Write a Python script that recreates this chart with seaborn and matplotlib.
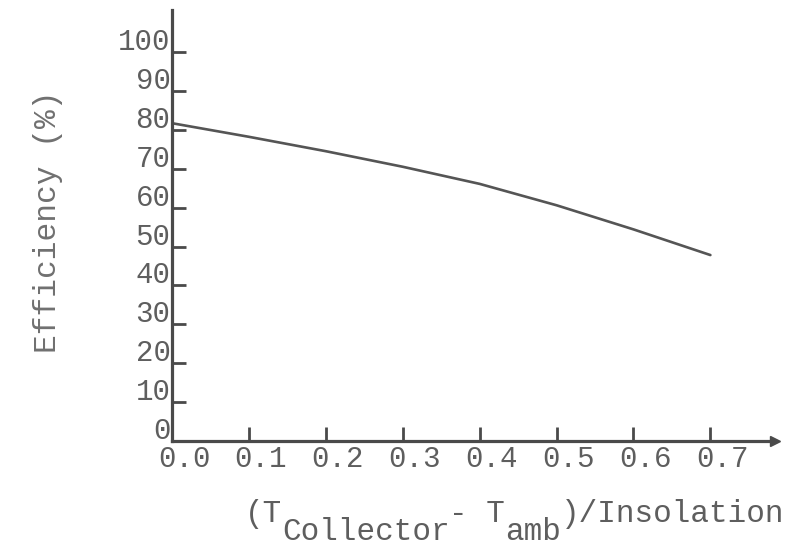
import matplotlib
matplotlib.use("Agg")
import matplotlib.pyplot as plt
import matplotlib.transforms as mtransforms
import seaborn as sns
import pandas as pd

# ---- data ----
x_ratio = [0.0, 0.1, 0.2, 0.3, 0.4, 0.5, 0.6, 0.7]
efficiency = [81.7, 78.2, 74.5, 70.5, 66.1, 60.6, 54.4, 47.8]
x_ticks = [0.0, 0.1, 0.2, 0.3, 0.4, 0.5, 0.6, 0.7]
x_tick_labels = ["0.0", "0.1", "0.2", "0.3", "0.4", "0.5", "0.6", "0.7"]
y_ticks = [0, 10, 20, 30, 40, 50, 60, 70, 80, 90, 100]
y_tick_labels = ["0", "10", "20", "30", "40", "50", "60", "70", "80", "90", "100"]

df = pd.DataFrame({"x": x_ratio, "eff": efficiency})

sns.set_theme(style="white")
plt.rcParams["font.family"] = ["Liberation Mono", "DejaVu Sans Mono"]

W, H = 799, 550
fig = plt.figure(figsize=(W / 100, H / 100), dpi=100)
ax = fig.add_axes([172 / W, (H - 441) / H, (775 - 172) / W, (441 - 10) / H])

axis_col = "#4a4a4a"
text_col = "#5e5e5e"

sns.lineplot(data=df, x="x", y="eff", ax=ax, color="#555555", linewidth=1.9)

ax.set_xlim(0, 0.784)
ax.set_ylim(0, 110.8)

for s in ["top", "right"]:
    ax.spines[s].set_visible(False)
for s in ["left", "bottom"]:
    ax.spines[s].set_color(axis_col)
    ax.spines[s].set_linewidth(2.3)

ax.set_xticks(x_ticks)
ax.set_xticklabels(x_tick_labels)
ax.set_yticks(y_ticks)
ax.set_yticklabels(y_tick_labels)

ax.tick_params(axis="x", direction="in", length=10, width=2, color=axis_col,
               labelsize=21, labelcolor=text_col, pad=3, bottom=True)
ax.tick_params(axis="y", direction="in", length=10, width=2, color=axis_col,
               labelsize=21, labelcolor=text_col, pad=1, left=True)

# typewriter offsets of the tick labels
dx = mtransforms.ScaledTranslation(12 / 100, 0, fig.dpi_scale_trans)
for lab in ax.get_xticklabels():
    lab.set_transform(lab.get_transform() + dx)
dy = mtransforms.ScaledTranslation(0, 13 / 100, fig.dpi_scale_trans)
for lab in ax.get_yticklabels():
    lab.set_transform(lab.get_transform() + dy)

ax.set_xlabel("")
ax.set_ylabel("")

# arrow head at the end of the x axis
ax.plot([1.0], [0.0], marker=">", markersize=7, color=axis_col,
        transform=ax.transAxes, clip_on=False)

# y label
fig.text(48 / W, 1 - 222 / H, "Efficiency (%)", rotation=90, ha="center", va="center",
         fontsize=22.5, color="#707070")

# x label composed as typed (subscripts at full size, monospace advance)
fs = 22.3
adv = 0.6 * fs * 100 / 72  # character advance in pixels

def ftxt(px, py, s):
    fig.text(px / W, 1 - py / H, s, ha="left", va="baseline", fontsize=fs, color=text_col)

pieces = [("(T", 522), ("Collector", 540), ("- T", 522), ("amb", 540), (")/Insolation", 522)]
x0 = 245
for s, base in pieces:
    ftxt(x0, base, s)
    x0 += len(s) * adv

fig.savefig("out.png", dpi=100, facecolor="white")
